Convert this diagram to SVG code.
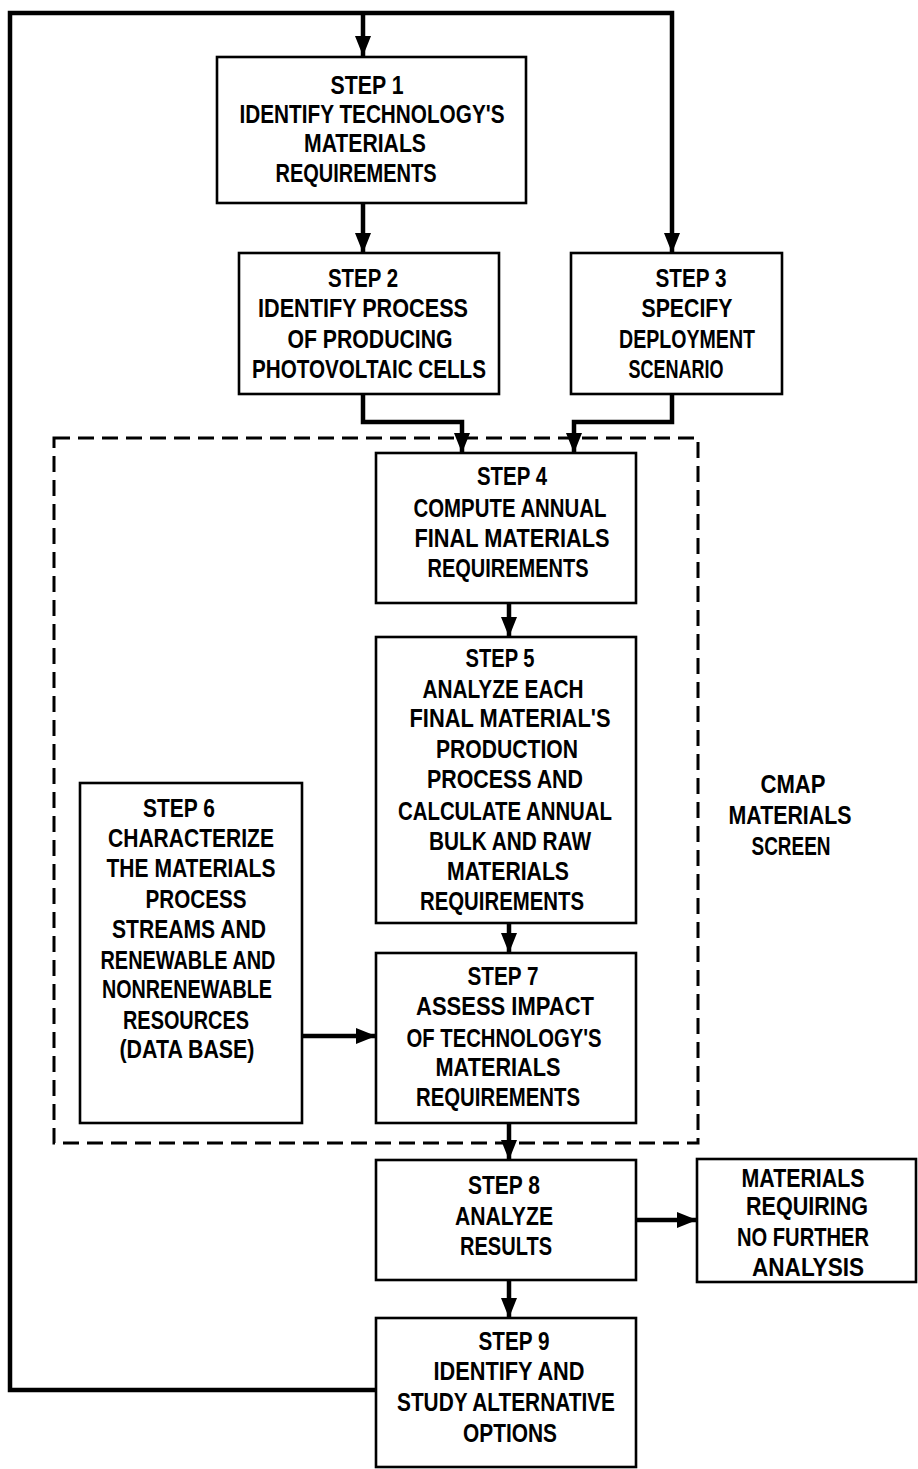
<svg xmlns="http://www.w3.org/2000/svg" width="918" height="1469" viewBox="0 0 918 1469">
<style>
.box{fill:#fff;stroke:#000;stroke-width:2.6}
.con{fill:none;stroke:#000;stroke-width:4.5;stroke-linejoin:miter}
.dash{fill:none;stroke:#000;stroke-width:3;stroke-dasharray:16 8}
text{font-family:"Liberation Sans",Arial,sans-serif;font-size:25px;font-weight:bold;fill:#000;text-anchor:middle}
</style>
<defs>
<marker id="ah" markerUnits="userSpaceOnUse" markerWidth="20" markerHeight="16" viewBox="0 0 20 16" refX="20" refY="8" orient="auto">
<path d="M0,0 L20,8 L0,16 Z" fill="#000"/>
</marker>
</defs>
<rect width="918" height="1469" fill="#fff"/>
<g id="connectors">
<path class="con" d="M376,1390 H10 V13 H672 V253" marker-end="url(#ah)"/>
<path class="con" d="M363,13 V56" marker-end="url(#ah)"/>
<path class="con" d="M363,203 V253" marker-end="url(#ah)"/>
<path class="con" d="M363,394 V422 H462 V453" marker-end="url(#ah)"/>
<path class="con" d="M672,394 V422 H574 V453" marker-end="url(#ah)"/>
<path class="con" d="M509,603 V637" marker-end="url(#ah)"/>
<path class="con" d="M509,923 V953" marker-end="url(#ah)"/>
<path class="con" d="M302,1036 H376" marker-end="url(#ah)"/>
<path class="con" d="M509,1123 V1160" marker-end="url(#ah)"/>
<path class="con" d="M636,1220 H697" marker-end="url(#ah)"/>
<path class="con" d="M509,1280 V1318" marker-end="url(#ah)"/>
</g>
<g id="cmap-screen">
<rect class="dash" x="54" y="438" width="644" height="705"/>
<text x="793" y="793" textLength="65" lengthAdjust="spacingAndGlyphs">CMAP</text>
<text x="790" y="824" textLength="123" lengthAdjust="spacingAndGlyphs">MATERIALS</text>
<text x="791" y="855" textLength="79" lengthAdjust="spacingAndGlyphs">SCREEN</text>
</g>
<g id="step1">
<rect class="box" x="217" y="57" width="309" height="146"/>
<text x="367" y="94" textLength="73" lengthAdjust="spacingAndGlyphs">STEP 1</text>
<text x="372" y="123" textLength="265" lengthAdjust="spacingAndGlyphs">IDENTIFY TECHNOLOGY'S</text>
<text x="365" y="152" textLength="122" lengthAdjust="spacingAndGlyphs">MATERIALS</text>
<text x="356" y="182" textLength="161" lengthAdjust="spacingAndGlyphs">REQUIREMENTS</text>
</g>
<g id="step2">
<rect class="box" x="239" y="253" width="260" height="141"/>
<text x="363" y="287" textLength="70" lengthAdjust="spacingAndGlyphs">STEP 2</text>
<text x="363" y="317" textLength="210" lengthAdjust="spacingAndGlyphs">IDENTIFY PROCESS</text>
<text x="370" y="348" textLength="165" lengthAdjust="spacingAndGlyphs">OF PRODUCING</text>
<text x="369" y="378" textLength="234" lengthAdjust="spacingAndGlyphs">PHOTOVOLTAIC CELLS</text>
</g>
<g id="step3">
<rect class="box" x="571" y="253" width="211" height="141"/>
<text x="691" y="287" textLength="71" lengthAdjust="spacingAndGlyphs">STEP 3</text>
<text x="687" y="317" textLength="91" lengthAdjust="spacingAndGlyphs">SPECIFY</text>
<text x="687" y="348" textLength="136" lengthAdjust="spacingAndGlyphs">DEPLOYMENT</text>
<text x="676" y="378" textLength="95" lengthAdjust="spacingAndGlyphs">SCENARIO</text>
</g>
<g id="step4">
<rect class="box" x="376" y="453" width="260" height="150"/>
<text x="512" y="485" textLength="70" lengthAdjust="spacingAndGlyphs">STEP 4</text>
<text x="510" y="517" textLength="193" lengthAdjust="spacingAndGlyphs">COMPUTE ANNUAL</text>
<text x="512" y="547" textLength="195" lengthAdjust="spacingAndGlyphs">FINAL MATERIALS</text>
<text x="508" y="577" textLength="161" lengthAdjust="spacingAndGlyphs">REQUIREMENTS</text>
</g>
<g id="step5">
<rect class="box" x="376" y="637" width="260" height="286"/>
<text x="500" y="667" textLength="69" lengthAdjust="spacingAndGlyphs">STEP 5</text>
<text x="503" y="698" textLength="161" lengthAdjust="spacingAndGlyphs">ANALYZE EACH</text>
<text x="510" y="727" textLength="201" lengthAdjust="spacingAndGlyphs">FINAL MATERIAL'S</text>
<text x="507" y="758" textLength="142" lengthAdjust="spacingAndGlyphs">PRODUCTION</text>
<text x="505" y="788" textLength="156" lengthAdjust="spacingAndGlyphs">PROCESS AND</text>
<text x="505" y="820" textLength="214" lengthAdjust="spacingAndGlyphs">CALCULATE ANNUAL</text>
<text x="510" y="850" textLength="162" lengthAdjust="spacingAndGlyphs">BULK AND RAW</text>
<text x="508" y="880" textLength="122" lengthAdjust="spacingAndGlyphs">MATERIALS</text>
<text x="502" y="910" textLength="164" lengthAdjust="spacingAndGlyphs">REQUIREMENTS</text>
</g>
<g id="step6">
<rect class="box" x="80" y="783" width="222" height="340"/>
<text x="179" y="817" textLength="72" lengthAdjust="spacingAndGlyphs">STEP 6</text>
<text x="191" y="847" textLength="166" lengthAdjust="spacingAndGlyphs">CHARACTERIZE</text>
<text x="191" y="877" textLength="169" lengthAdjust="spacingAndGlyphs">THE MATERIALS</text>
<text x="196" y="908" textLength="101" lengthAdjust="spacingAndGlyphs">PROCESS</text>
<text x="189" y="938" textLength="154" lengthAdjust="spacingAndGlyphs">STREAMS AND</text>
<text x="188" y="969" textLength="175" lengthAdjust="spacingAndGlyphs">RENEWABLE AND</text>
<text x="187" y="998" textLength="170" lengthAdjust="spacingAndGlyphs">NONRENEWABLE</text>
<text x="186" y="1029" textLength="126" lengthAdjust="spacingAndGlyphs">RESOURCES</text>
<text x="187" y="1058" textLength="135" lengthAdjust="spacingAndGlyphs">(DATA BASE)</text>
</g>
<g id="step7">
<rect class="box" x="376" y="953" width="260" height="170"/>
<text x="503" y="985" textLength="71" lengthAdjust="spacingAndGlyphs">STEP 7</text>
<text x="505" y="1015" textLength="178" lengthAdjust="spacingAndGlyphs">ASSESS IMPACT</text>
<text x="504" y="1047" textLength="195" lengthAdjust="spacingAndGlyphs">OF TECHNOLOGY'S</text>
<text x="498" y="1076" textLength="125" lengthAdjust="spacingAndGlyphs">MATERIALS</text>
<text x="498" y="1106" textLength="164" lengthAdjust="spacingAndGlyphs">REQUIREMENTS</text>
</g>
<g id="step8">
<rect class="box" x="376" y="1160" width="260" height="120"/>
<text x="504" y="1194" textLength="72" lengthAdjust="spacingAndGlyphs">STEP 8</text>
<text x="504" y="1225" textLength="98" lengthAdjust="spacingAndGlyphs">ANALYZE</text>
<text x="506" y="1255" textLength="92" lengthAdjust="spacingAndGlyphs">RESULTS</text>
</g>
<g id="no-further">
<rect class="box" x="697" y="1159" width="219" height="123"/>
<text x="803" y="1187" textLength="123" lengthAdjust="spacingAndGlyphs">MATERIALS</text>
<text x="807" y="1215" textLength="122" lengthAdjust="spacingAndGlyphs">REQUIRING</text>
<text x="803" y="1246" textLength="132" lengthAdjust="spacingAndGlyphs">NO FURTHER</text>
<text x="808" y="1276" textLength="112" lengthAdjust="spacingAndGlyphs">ANALYSIS</text>
</g>
<g id="step9">
<rect class="box" x="376" y="1318" width="260" height="149"/>
<text x="514" y="1350" textLength="71" lengthAdjust="spacingAndGlyphs">STEP 9</text>
<text x="509" y="1380" textLength="151" lengthAdjust="spacingAndGlyphs">IDENTIFY AND</text>
<text x="506" y="1411" textLength="218" lengthAdjust="spacingAndGlyphs">STUDY ALTERNATIVE</text>
<text x="510" y="1442" textLength="94" lengthAdjust="spacingAndGlyphs">OPTIONS</text>
</g>
</svg>
